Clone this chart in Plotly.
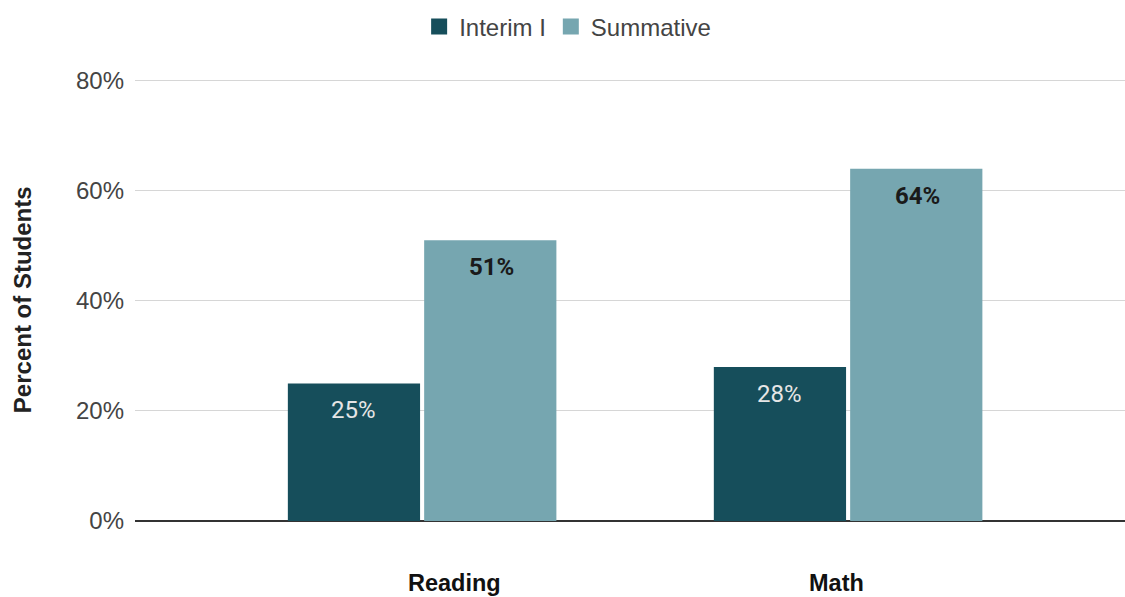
import plotly.graph_objects as go

categories = ["Reading", "Math"]
interim_vals = [25, 28]
summative_vals = [51, 64]
series_names = ["Interim I", "Summative"]
tick_vals = [0, 20, 40, 60, 80]
tick_text = ["0%", "20%", "40%", "60%", "80%"]

c_interim = "#164e5b"
c_summ = "#76a6b0"
font = "Liberation Sans, Arial, sans-serif"
font_lbl = "Roboto, Arial, sans-serif"
cat_label_shift = [32, -12]  # label placement quirk of the original

fig = go.Figure()
fig.add_bar(name=series_names[0], x=categories, y=interim_vals, marker_color=c_interim,
            marker_line_width=0, hoverinfo="skip", showlegend=False)
fig.add_bar(name=series_names[1], x=categories, y=summative_vals, marker_color=c_summ,
            marker_line_width=0, hoverinfo="skip", showlegend=False)
# legend entries with larger square swatches
for name, col in zip(series_names, [c_interim, c_summ]):
    fig.add_scatter(x=[None], y=[None], mode="markers", name=name,
                    marker=dict(symbol="square", size=24, color=col))

for cat, v in zip(categories, interim_vals):
    fig.add_annotation(x=cat, y=v, text=f"{v}%", showarrow=False, xshift=-69, yshift=-11,
                       yanchor="top", font=dict(family=font_lbl, size=24, color="#e6e6e6"))
for cat, v in zip(categories, summative_vals):
    fig.add_annotation(x=cat, y=v, text=f"<b>{v}%</b>", showarrow=False, xshift=69, yshift=-11,
                       yanchor="top", font=dict(family=font_lbl, size=24, color="#1a1a1a"))

for cat, sh in zip(categories, cat_label_shift):
    fig.add_annotation(x=cat, yref="paper", y=0, text=f"<b>{cat}</b>", showarrow=False,
                       xshift=sh, yshift=-62, yanchor="middle",
                       font=dict(family=font, size=23.5, color="#111111"))

fig.add_annotation(xref="paper", yref="paper", x=-0.114, y=0.5, xanchor="center", yanchor="middle",
                   text="<b>Percent of Students</b>",
                   textangle=-90, showarrow=False, font=dict(family=font, size=24, color="#222222"))

fig.update_layout(
    width=1125, height=597,
    margin=dict(l=135, r=0, t=79, b=76),
    paper_bgcolor="white", plot_bgcolor="white",
    barmode="group", bargap=0.36, bargroupgap=0.03,
    font=dict(family=font, size=24, color="#444444"),
    legend=dict(orientation="h", x=0.437, xanchor="center", y=1.118, yanchor="middle",
                font=dict(family=font, size=24, color="#444444"), itemsizing="trace"),
    showlegend=True,
)
fig.update_xaxes(range=[-0.674, 1.65], showgrid=False, showticklabels=False, ticks="",
                 showline=False, zeroline=False)
fig.update_yaxes(range=[0, 80.3], tickvals=tick_vals, ticktext=tick_text, showgrid=True,
                 gridcolor="#d6d6d6", gridwidth=1, zeroline=True, zerolinecolor="#333333",
                 zerolinewidth=1.5, ticks="", ticklabelstandoff=10,
                 tickfont=dict(family=font, size=24, color="#444444"))

fig.write_html("out.html")
